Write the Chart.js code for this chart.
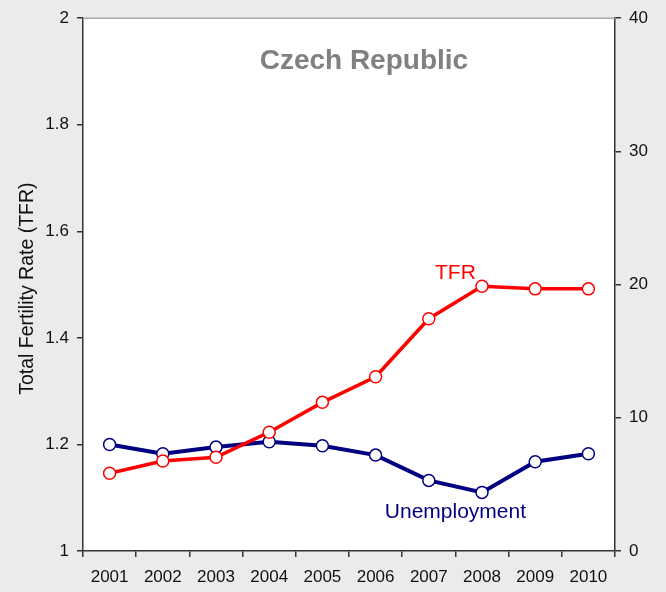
<!DOCTYPE html>
<html lang="en">
  <head>
    <meta charset="UTF-8" />
    <title>Czech Republic TFR and Unemployment</title>
    <script src="https://cdn.jsdelivr.net/npm/chart.js"></script>
    <style>
      body { margin: 0; background: #ebebeb; }
      canvas { display: block; }
    </style>
  </head>
  <body>
    <canvas id="chart" width="666" height="592"></canvas>
    <script>
      const years = ["2001", "2002", "2003", "2004", "2005", "2006", "2007", "2008", "2009", "2010"];
      const tfr = [1.146, 1.169, 1.176, 1.223, 1.279, 1.327, 1.436, 1.497, 1.492, 1.492];
      const unemployment = [8.0, 7.3, 7.8, 8.2, 7.9, 7.2, 5.3, 4.4, 6.7, 7.3];
      const chartTitle = "Czech Republic";
      const yTitle = "Total Fertility Rate (TFR)";

      const FONT = "'Liberation Sans', Arial, Helvetica, sans-serif";

      // white plot area, grey top edge, and the text drawn inside the plot
      const decorations = {
        id: "decorations",
        beforeDraw(chart) {
          const { ctx, chartArea: a } = chart;
          ctx.save();
          ctx.fillStyle = "#ffffff";
          ctx.fillRect(a.left, a.top, a.right - a.left, a.bottom - a.top);
          ctx.restore();
        },
        afterDraw(chart) {
          const { ctx, chartArea: a, scales } = chart;
          const x = scales.x, yL = scales.yL, yR = scales.yR;
          ctx.save();
          ctx.strokeStyle = "#aaaaaa";
          ctx.lineWidth = 1.5;
          ctx.beginPath();
          ctx.moveTo(a.left, a.top);
          ctx.lineTo(a.right, a.top);
          ctx.stroke();

          ctx.textAlign = "center";
          ctx.textBaseline = "alphabetic";
          ctx.fillStyle = "#808080";
          ctx.font = "bold 28px " + FONT;
          ctx.fillText(chartTitle, x.getPixelForValue(4.78), a.top + 51);

          ctx.font = "21px " + FONT;
          ctx.fillStyle = "#ff0000";
          ctx.fillText("TFR", x.getPixelForValue(6.5), yL.getPixelForValue(1.51));
          ctx.fillStyle = "#000080";
          ctx.fillText("Unemployment", x.getPixelForValue(6.5), yR.getPixelForValue(2.47));

          ctx.translate(28, (a.top + a.bottom) / 2 + 4);
          ctx.rotate(-Math.PI / 2);
          ctx.textBaseline = "middle";
          ctx.fillStyle = "#111111";
          ctx.font = "19.5px " + FONT;
          ctx.fillText(yTitle, 0, 0);
          ctx.restore();
        },
      };

      const axisColor = "#333333";
      const tickFont = { family: FONT, size: 17 };

      new Chart(document.getElementById("chart"), {
        type: "line",
        data: {
          labels: years,
          datasets: [
            {
              label: "TFR",
              data: tfr,
              yAxisID: "yL",
              borderColor: "#ff0000",
              borderWidth: 3.5,
              pointBackgroundColor: "#ffffff",
              pointBorderColor: "#ff0000",
              pointBorderWidth: 1.5,
              pointRadius: 6,
              tension: 0,
            },
            {
              label: "Unemployment",
              data: unemployment,
              yAxisID: "yR",
              borderColor: "#000080",
              borderWidth: 4,
              pointBackgroundColor: "#ffffff",
              pointBorderColor: "#000080",
              pointBorderWidth: 1.5,
              pointRadius: 6,
              tension: 0,
            },
          ],
        },
        options: {
          responsive: false,
          animation: false,
          layout: { padding: { top: 16, left: 0, right: 0, bottom: 0 } },
          plugins: { legend: { display: false }, tooltip: { enabled: false } },
          scales: {
            x: {
              offset: true,
              grid: { offset: true, drawOnChartArea: false, tickLength: 6, color: axisColor, lineWidth: 1.5 },
              border: { color: axisColor, width: 1.5 },
              ticks: { color: "#111111", font: tickFont, padding: 10, maxRotation: 0 },
              afterFit(s) { s.height = 41; },
            },
            yL: {
              position: "left",
              min: 1,
              max: 2,
              ticks: {
                stepSize: 0.2,
                color: "#111111",
                font: tickFont,
                padding: 8,
                callback: (v) => String(Math.round(v * 10) / 10),
              },
              grid: { drawOnChartArea: false, tickLength: 6, color: axisColor, lineWidth: 1.5 },
              border: { color: axisColor, width: 1.5 },
              afterFit(s) { s.width = 83; },
            },
            yR: {
              position: "right",
              min: 0,
              max: 40,
              ticks: { stepSize: 10, color: "#111111", font: tickFont, padding: 8 },
              grid: { drawOnChartArea: false, tickLength: 6, color: axisColor, lineWidth: 1.5 },
              border: { color: axisColor, width: 1.5 },
              afterFit(s) { s.width = 51; },
            },
          },
        },
        plugins: [decorations],
      });
    </script>
  </body>
</html>
